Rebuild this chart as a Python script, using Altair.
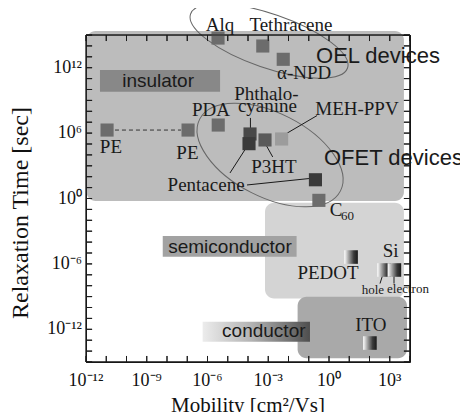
import altair as alt
import pandas as pd

SERIF = "Liberation Serif"
SANS = "Liberation Sans"

# ---------------- data (all positions are log10 values) ----------------
X_DOMAIN = [-12, 4]
Y_DOMAIN = [-15, 15]
x_decades = list(range(-12, 5))
y_decades = list(range(-15, 16))
x_label_exps = [-12, -9, -6, -3, 0, 3]
y_label_exps = [-12, -6, 0, 6, 12]
x_title = "Mobility [cm²/Vs]"
y_title = "Relaxation Time [sec]"

region_names = ["insulator", "semiconductor", "conductor"]
region_x1 = [-11.97, -3.16, -1.55]
region_x2 = [3.70, 3.70, 3.85]
region_y1 = [15.37, -0.39, -9.01]
region_y2 = [-0.23, -9.17, -14.66]

tag_names = ["insulator", "semiconductor"]
tag_x1 = [-11.31, -8.21]
tag_x2 = [-5.38, -1.60]
tag_y1 = [11.79, -3.44]
tag_y2 = [9.80, -5.34]

cond_tag_x1 = [-6.24]
cond_tag_x2 = [-0.94]
cond_tag_y1 = [-11.30]
cond_tag_y2 = [-13.14]

materials = ["Alq", "Tethracene", "α-NPD", "PE", "PE", "PDA", "Phthalocyanine",
             "Pentacene", "P3HT", "MEH-PPV", "Pentacene", "C60"]
mat_mob = [-5.48, -3.27, -2.26, -10.96, -6.96, -5.47, -3.90, -3.95, -3.16, -2.34, -0.67, -0.50]
mat_tau = [14.72, 13.99, 12.77, 6.28, 6.28, 6.74, 5.92, 5.03, 5.37, 5.46, 1.72, -0.17]
mat_shade = ["mid", "mid", "mid", "mid", "mid", "mid", "dark", "darkest", "middark",
             "light", "darkest", "mid"]

inorg = ["PEDOT", "Si hole", "Si electron", "ITO"]
inorg_mob = [1.09, 2.72, 3.23, 2.02]
inorg_tau = [-5.37, -6.56, -6.56, -13.26]

# connectors
con_x1 = [-3.88, -4.89, -4.05, -3.11, -2.22, 2.65, 3.21]
con_x2 = [-3.88, -4.00, -0.99, -2.78, -0.59, 2.52, 3.21]
con_y1 = [7.39, 2.34, 1.24, 4.91, 5.83, -7.02, -7.02]
con_y2 = [6.38, 4.91, 1.83, 3.81, 7.61, -7.80, -7.80]
pe_x1 = [-10.57]
pe_x2 = [-7.31]
pe_y = [6.28]

# ellipses (centres)
oel_x, oel_y = [-2.96], [14.45]
ofet_x, ofet_y = [-2.91], [3.99]

serif_texts = ["Alq", "Tethracene", "α-NPD", "PE", "PE", "PDA", "Phthalo-", "cyanine",
               "MEH-PPV", "P3HT", "Pentacene", "C", "PEDOT", "Si", "ITO"]
serif_x = [-5.38, -1.88, -1.23, -10.77, -6.99, -5.83, -3.09, -3.04, 1.38, -2.72, -6.07,
           0.35, -0.05, 3.04, 2.07]
serif_y = [15.37, 15.37, 10.96, 4.17, 3.62, 7.57, 9.04, 7.94, 7.66, 2.37, 0.69, -1.61,
           -7.43, -5.41, -12.16]
small_texts = ["60", "hole", "electron"]
small_x = [0.91, 2.17, 3.90]
small_y = [-1.97, -8.76, -8.67]
big_texts = ["OEL devices", "OFET devices"]
big_x = [-0.64, -0.25]
big_y = [12.43, 3.07]
tag_texts = ["insulator", "semiconductor"]
tag_tx = [-8.44, -4.89]
tag_ty = [10.23, -4.97]
cond_text = ["conductor"]
cond_tx = [-5.28]
cond_ty = [-12.68]

# ---------------- helpers ----------------
SUP = str.maketrans("-0123456789", "⁻⁰¹²³⁴⁵⁶⁷⁸⁹")


def pow10_label(v):
    return "10" + str(v).translate(SUP)


def ellipse_path(r):
    k = 0.5523
    return (f"M -1 0 C -1 {-k*r:.4f} {-k:.4f} {-r:.4f} 0 {-r:.4f} "
            f"C {k:.4f} {-r:.4f} 1 {-k*r:.4f} 1 0 "
            f"C 1 {k*r:.4f} {k:.4f} {r:.4f} 0 {r:.4f} "
            f"C {-k:.4f} {r:.4f} -1 {k*r:.4f} -1 0 Z")


W, H = 324, 327
xs = alt.Scale(domain=X_DOMAIN, nice=False, zero=False)
ys = alt.Scale(domain=Y_DOMAIN, nice=False, zero=False)


def X(field):
    return alt.X(field, scale=xs, axis=None)


def Y(field):
    return alt.Y(field, scale=ys, axis=None)


# ---------------- layers ----------------
df_regions = pd.DataFrame({"name": region_names, "x1": region_x1, "x2": region_x2,
                           "y1": region_y1, "y2": region_y2})
regions = alt.Chart(df_regions).mark_rect(cornerRadius=9).encode(
    x=X("x1:Q"), x2="x2:Q", y=Y("y1:Q"), y2="y2:Q",
    color=alt.Color("name:N", legend=None,
                    scale=alt.Scale(domain=region_names,
                                    range=["#bcbcbc", "#d4d4d4", "#a9a9a9"])))

df_tags = pd.DataFrame({"name": tag_names, "x1": tag_x1, "x2": tag_x2,
                        "y1": tag_y1, "y2": tag_y2})
tags = alt.Chart(df_tags).mark_rect().encode(
    x=X("x1:Q"), x2="x2:Q", y=Y("y1:Q"), y2="y2:Q",
    color=alt.Color("name:N", legend=None,
                    scale=alt.Scale(domain=tag_names, range=["#888888", "#a2a2a2"])))

df_ctag = pd.DataFrame({"cx1": cond_tag_x1, "cx2": cond_tag_x2, "cy1": cond_tag_y1,
                        "cy2": cond_tag_y2})
ctag = alt.Chart(df_ctag).mark_rect(
    color=alt.LinearGradient(gradient="linear", x1=0, x2=1, y1=0, y2=0,
                             stops=[alt.GradientStop(offset=0, color="#ececec"),
                                    alt.GradientStop(offset=0.45, color="#b4b4b4"),
                                    alt.GradientStop(offset=0.8, color="#747474"),
                                    alt.GradientStop(offset=1, color="#4e4e4e")])
).encode(x=X("cx1:Q"), x2="cx2:Q", y=Y("cy1:Q"), y2="cy2:Q")

oel = alt.Chart(pd.DataFrame({"ex": oel_x, "ey": oel_y})).mark_point(
    shape=ellipse_path(27 / 83), size=166 ** 2, angle=19, filled=False,
    stroke="#666666", strokeWidth=1, opacity=1
).encode(x=X("ex:Q"), y=Y("ey:Q"))

ofet = alt.Chart(pd.DataFrame({"fx": ofet_x, "fy": ofet_y})).mark_point(
    shape=ellipse_path(42 / 79), size=158 ** 2, angle=27, filled=False,
    stroke="#666666", strokeWidth=1, opacity=1
).encode(x=X("fx:Q"), y=Y("fy:Q"))

# connectors + frame edges + inward decade ticks, all as line segments
TL = 6  # tick length in px
tlx = TL * (X_DOMAIN[1] - X_DOMAIN[0]) / W
tly = TL * (Y_DOMAIN[1] - Y_DOMAIN[0]) / H
EPS = 0.004
xa, xb = X_DOMAIN[0] + EPS, X_DOMAIN[1] - EPS
ya, yb = Y_DOMAIN[0] + EPS, Y_DOMAIN[1] - EPS
frame_seg = [(xa, xb, ya, ya), (xa, xb, yb, yb), (xa, xa, ya, yb), (xb, xb, ya, yb)]
for d in x_decades:
    dd = min(max(d + 0.0001, xa), xb)
    frame_seg.append((dd, dd, ya, ya + tly))
    frame_seg.append((dd, dd, yb, yb - tly))
for d in y_decades:
    dd = min(max(d + 0.0001, ya), yb)
    frame_seg.append((xa, xa + tlx, dd, dd))
    frame_seg.append((xb, xb - tlx, dd, dd))
seg = list(zip(con_x1, con_x2, con_y1, con_y2)) + frame_seg
df_con = pd.DataFrame(seg, columns=["x1", "x2", "y1", "y2"])
lines = alt.Chart(df_con).mark_rule(color="#1a1a1a", strokeWidth=1).encode(
    x=X("x1:Q"), x2="x2:Q", y=Y("y1:Q"), y2="y2:Q")

# the same frame and ticks again as 1px filled bars
hx = 0.5 * (X_DOMAIN[1] - X_DOMAIN[0]) / W
hy = 0.5 * (Y_DOMAIN[1] - Y_DOMAIN[0]) / H
bars = []
for (a1, a2, b1, b2) in frame_seg:
    if a1 == a2:
        bars.append((a1 - hx, a1 + hx, min(b1, b2), max(b1, b2)))
    else:
        bars.append((min(a1, a2), max(a1, a2), b1 - hy, b1 + hy))
df_bars = pd.DataFrame(bars, columns=["bx1", "bx2", "by1", "by2"])
frame_bars = alt.Chart(df_bars).mark_rect(color="#1a1a1a").encode(
    x=X("bx1:Q"), x2="bx2:Q", y=Y("by1:Q"), y2="by2:Q")

df_pe = pd.DataFrame({"px1": pe_x1, "px2": pe_x2, "py": pe_y})
pe_line = alt.Chart(df_pe).mark_rule(color="#333333", strokeWidth=1,
                                     strokeDash=[4, 3]).encode(
    x=X("px1:Q"), x2="px2:Q", y=Y("py:Q"))

df_mat = pd.DataFrame({"name": materials, "mob": mat_mob, "tau": mat_tau,
                       "shade": mat_shade})
squares = alt.Chart(df_mat).mark_square(size=172, opacity=1).encode(
    x=X("mob:Q"), y=Y("tau:Q"),
    color=alt.Color("shade:N", legend=None,
                    scale=alt.Scale(domain=["light", "mid", "middark", "dark", "darkest"],
                                    range=["#9c9c9c", "#6c6c6c", "#5a5a5a", "#484848",
                                           "#3a3a3a"])))

df_inorg = pd.DataFrame({"name": inorg, "gmob": inorg_mob, "gtau": inorg_tau})
gsquares = alt.Chart(df_inorg).mark_square(
    size=185, opacity=1,
    color=alt.LinearGradient(gradient="linear", x1=0, x2=1, y1=0, y2=0,
                             stops=[alt.GradientStop(offset=0, color="#ffffff"),
                                    alt.GradientStop(offset=0.35, color="#9a9a9a"),
                                    alt.GradientStop(offset=0.7, color="#3a3a3a"),
                                    alt.GradientStop(offset=1, color="#1a1a1a")])
).encode(x=X("gmob:Q"), y=Y("gtau:Q"))


def text_layer(texts, xv, yv, font, size, align):
    df = pd.DataFrame({"t": texts, "tx": xv, "ty": yv})
    return alt.Chart(df).mark_text(font=font, fontSize=size, align=align,
                                   baseline="alphabetic", color="#1a1a1a").encode(
        x=X("tx:Q"), y=Y("ty:Q"), text="t:N")


t_serif = text_layer(serif_texts, serif_x, serif_y, SERIF, 19, "center")
t_small = text_layer(small_texts, small_x, small_y, SERIF, 13, "center")
t_big = text_layer(big_texts, big_x, big_y, SANS, 22, "left")
t_tag = text_layer(tag_texts, tag_tx, tag_ty, SANS, 19, "center")
t_cond = text_layer(cond_text, cond_tx, cond_ty, SANS, 19, "left")

# tick labels and axis titles
df_xl = pd.DataFrame({"xd": x_label_exps, "lab": [pow10_label(v) for v in x_label_exps]})
df_yl = pd.DataFrame({"yd": y_label_exps, "lab": [pow10_label(v) for v in y_label_exps]})
x_labels = alt.Chart(df_xl).mark_text(font=SERIF, fontSize=18, align="center",
                                      baseline="alphabetic", color="#111111").encode(
    x=X("xd:Q"), y=alt.value(H + 24), text="lab:N")
y_labels = alt.Chart(df_yl).mark_text(font=SERIF, fontSize=18, align="right",
                                      baseline="middle", color="#111111").encode(
    y=Y("yd:Q"), x=alt.value(-4), text="lab:N")
x_title_mark = alt.Chart(pd.DataFrame({"t": [x_title]})).mark_text(
    font=SERIF, fontSize=21, align="center", baseline="alphabetic", color="#111111"
).encode(x=alt.value(W / 2), y=alt.value(H + 50), text="t:N")
y_title_mark = alt.Chart(pd.DataFrame({"t": [y_title]})).mark_text(
    font=SERIF, fontSize=24, align="center", baseline="alphabetic", angle=270,
    color="#111111"
).encode(x=alt.value(-58), y=alt.value(178), text="t:N")

chart = alt.layer(
    regions, tags, ctag, oel, ofet, pe_line, lines, squares, gsquares,
    t_serif, t_small, t_big, t_tag, t_cond,
    x_labels, y_labels, x_title_mark, y_title_mark, frame_bars
).resolve_scale(color="independent").properties(
    width=W, height=H,
    autosize=alt.AutoSizeParams(type="none"),
    padding={"left": 78, "top": 27, "right": 50, "bottom": 50},
).configure_view(stroke="#111111", strokeWidth=1)

chart.save("out.html", embed_options={"renderer": "svg", "actions": False})
